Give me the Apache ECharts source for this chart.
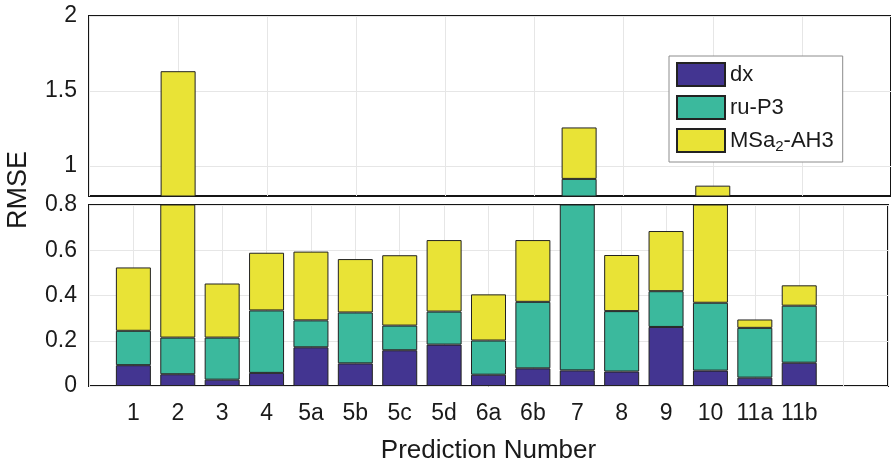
<!DOCTYPE html>
<html>
<head>
<meta charset="utf-8">
<script src="https://cdn.jsdelivr.net/npm/echarts@6/dist/echarts.min.js"></script>
<style>
  html, body { margin: 0; padding: 0; background: #fff; }
  #chart { width: 891px; height: 465px; }
</style>
</head>
<body>
<div id="chart"></div>
<script>
const categories = ['1', '2', '3', '4', '5a', '5b', '5c', '5d', '6a', '6b', '7', '8', '9', '10', '11a', '11b']
const dx   = [0.092, 0.052, 0.028, 0.058, 0.171, 0.100, 0.158, 0.183, 0.050, 0.078, 0.069, 0.064, 0.261, 0.068, 0.037, 0.103]
const ruP3 = [0.152, 0.162, 0.186, 0.276, 0.119, 0.225, 0.109, 0.146, 0.151, 0.294, 0.845, 0.267, 0.158, 0.300, 0.220, 0.252]
const msa2 = [0.280, 1.418, 0.239, 0.255, 0.304, 0.236, 0.311, 0.316, 0.204, 0.273, 0.343, 0.248, 0.266, 0.501, 0.037, 0.090]
const topTicks = [1, 1.5, 2]

const FONT = '"Liberation Sans", Arial, sans-serif'
const TXT = '#1a1a1a'
const seriesDefs = [
  { name: 'dx',       data: dx,   color: '#433591' },
  { name: 'ru-P3',    data: ruP3, color: '#3bb99d' },
  { name: 'MSa2-AH3', data: msa2, color: '#e9e336' },
]

// axis runs from an empty slot before "1" to two empty slots after "11b"
const axisCats = ['', ...categories, '', '']
const pad = arr => ['-', ...arr, '-', '-']

const chart = echarts.init(document.getElementById('chart'), null, { renderer: 'canvas' })

const gridLine = { show: true, lineStyle: { color: '#e6e6e6', width: 1 } }
const frame = { show: true, borderColor: '#151515', borderWidth: 2, backgroundColor: 'transparent' }

const series = []
;[0, 1].forEach(g => {
  seriesDefs.forEach(s => {
    series.push({
      name: s.name,
      type: 'bar',
      stack: 'rmse' + g,
      xAxisIndex: g,
      yAxisIndex: g,
      barWidth: 35,
      clip: true,
      data: pad(s.data),
      itemStyle: { color: s.color, borderColor: '#222', borderWidth: 1 },
    })
  })
})

chart.setOption({
  animation: false,
  backgroundColor: '#fff',
  textStyle: { fontFamily: FONT },
  grid: [
    { left: 89, right: -2, top: 16, height: 180, ...frame },
    { left: 89, right: -2, top: 205, height: 181, ...frame },
  ],
  xAxis: [
    {
      type: 'category', gridIndex: 0, data: axisCats, boundaryGap: false,
      axisLine: { show: false }, axisTick: { show: false }, axisLabel: { show: false },
      splitLine: { ...gridLine, interval: i => i % 2 === 0 },
    },
    {
      type: 'category', gridIndex: 1, data: axisCats, boundaryGap: false,
      axisLine: { show: false }, axisTick: { show: false },
      axisLabel: { color: TXT, fontSize: 23, fontFamily: FONT, margin: 16, interval: 0 },
      splitLine: { ...gridLine, interval: 0 },
      name: 'Prediction Number', nameLocation: 'middle', nameGap: 52,
      nameTextStyle: { color: TXT, fontSize: 26, fontFamily: FONT },
    },
  ],
  yAxis: [
    {
      type: 'value', gridIndex: 0, min: 0.8, max: 2,
      axisLine: { show: false },
      axisTick: { show: false, customValues: topTicks },
      axisLabel: { color: TXT, fontSize: 23, fontFamily: FONT, margin: 12, customValues: topTicks },
      splitLine: { ...gridLine, customValues: topTicks },
    },
    {
      type: 'value', gridIndex: 1, min: 0, max: 0.8, interval: 0.2,
      axisLine: { show: false }, axisTick: { show: false },
      axisLabel: { color: TXT, fontSize: 23, fontFamily: FONT, margin: 12 },
      splitLine: gridLine,
    },
  ],
  legend: {
    orient: 'vertical',
    left: 669, top: 56,
    padding: [6, 9, 8, 7],
    itemWidth: 48, itemHeight: 23, itemGap: 8,
    backgroundColor: '#fff',
    borderColor: '#8c8c8c', borderWidth: 1, borderRadius: 0,
    icon: 'rect',
    data: seriesDefs.map(s => s.name),
    formatter: n => n === 'MSa2-AH3' ? 'MSa{sub|2}-AH3' : n,
    textStyle: {
      color: TXT, fontSize: 22, fontFamily: FONT,
      rich: { sub: { fontSize: 15, fontFamily: FONT, color: TXT, padding: [12, 0, 0, 0] } },
    },
  },
  graphic: [{
    type: 'text',
    x: 19, y: 190,
    rotation: Math.PI / 2,
    style: {
      text: 'RMSE', fill: TXT, font: '27px ' + FONT,
      textAlign: 'center', textVerticalAlign: 'middle',
    },
  }],
  series,
})
</script>
</body>
</html>
